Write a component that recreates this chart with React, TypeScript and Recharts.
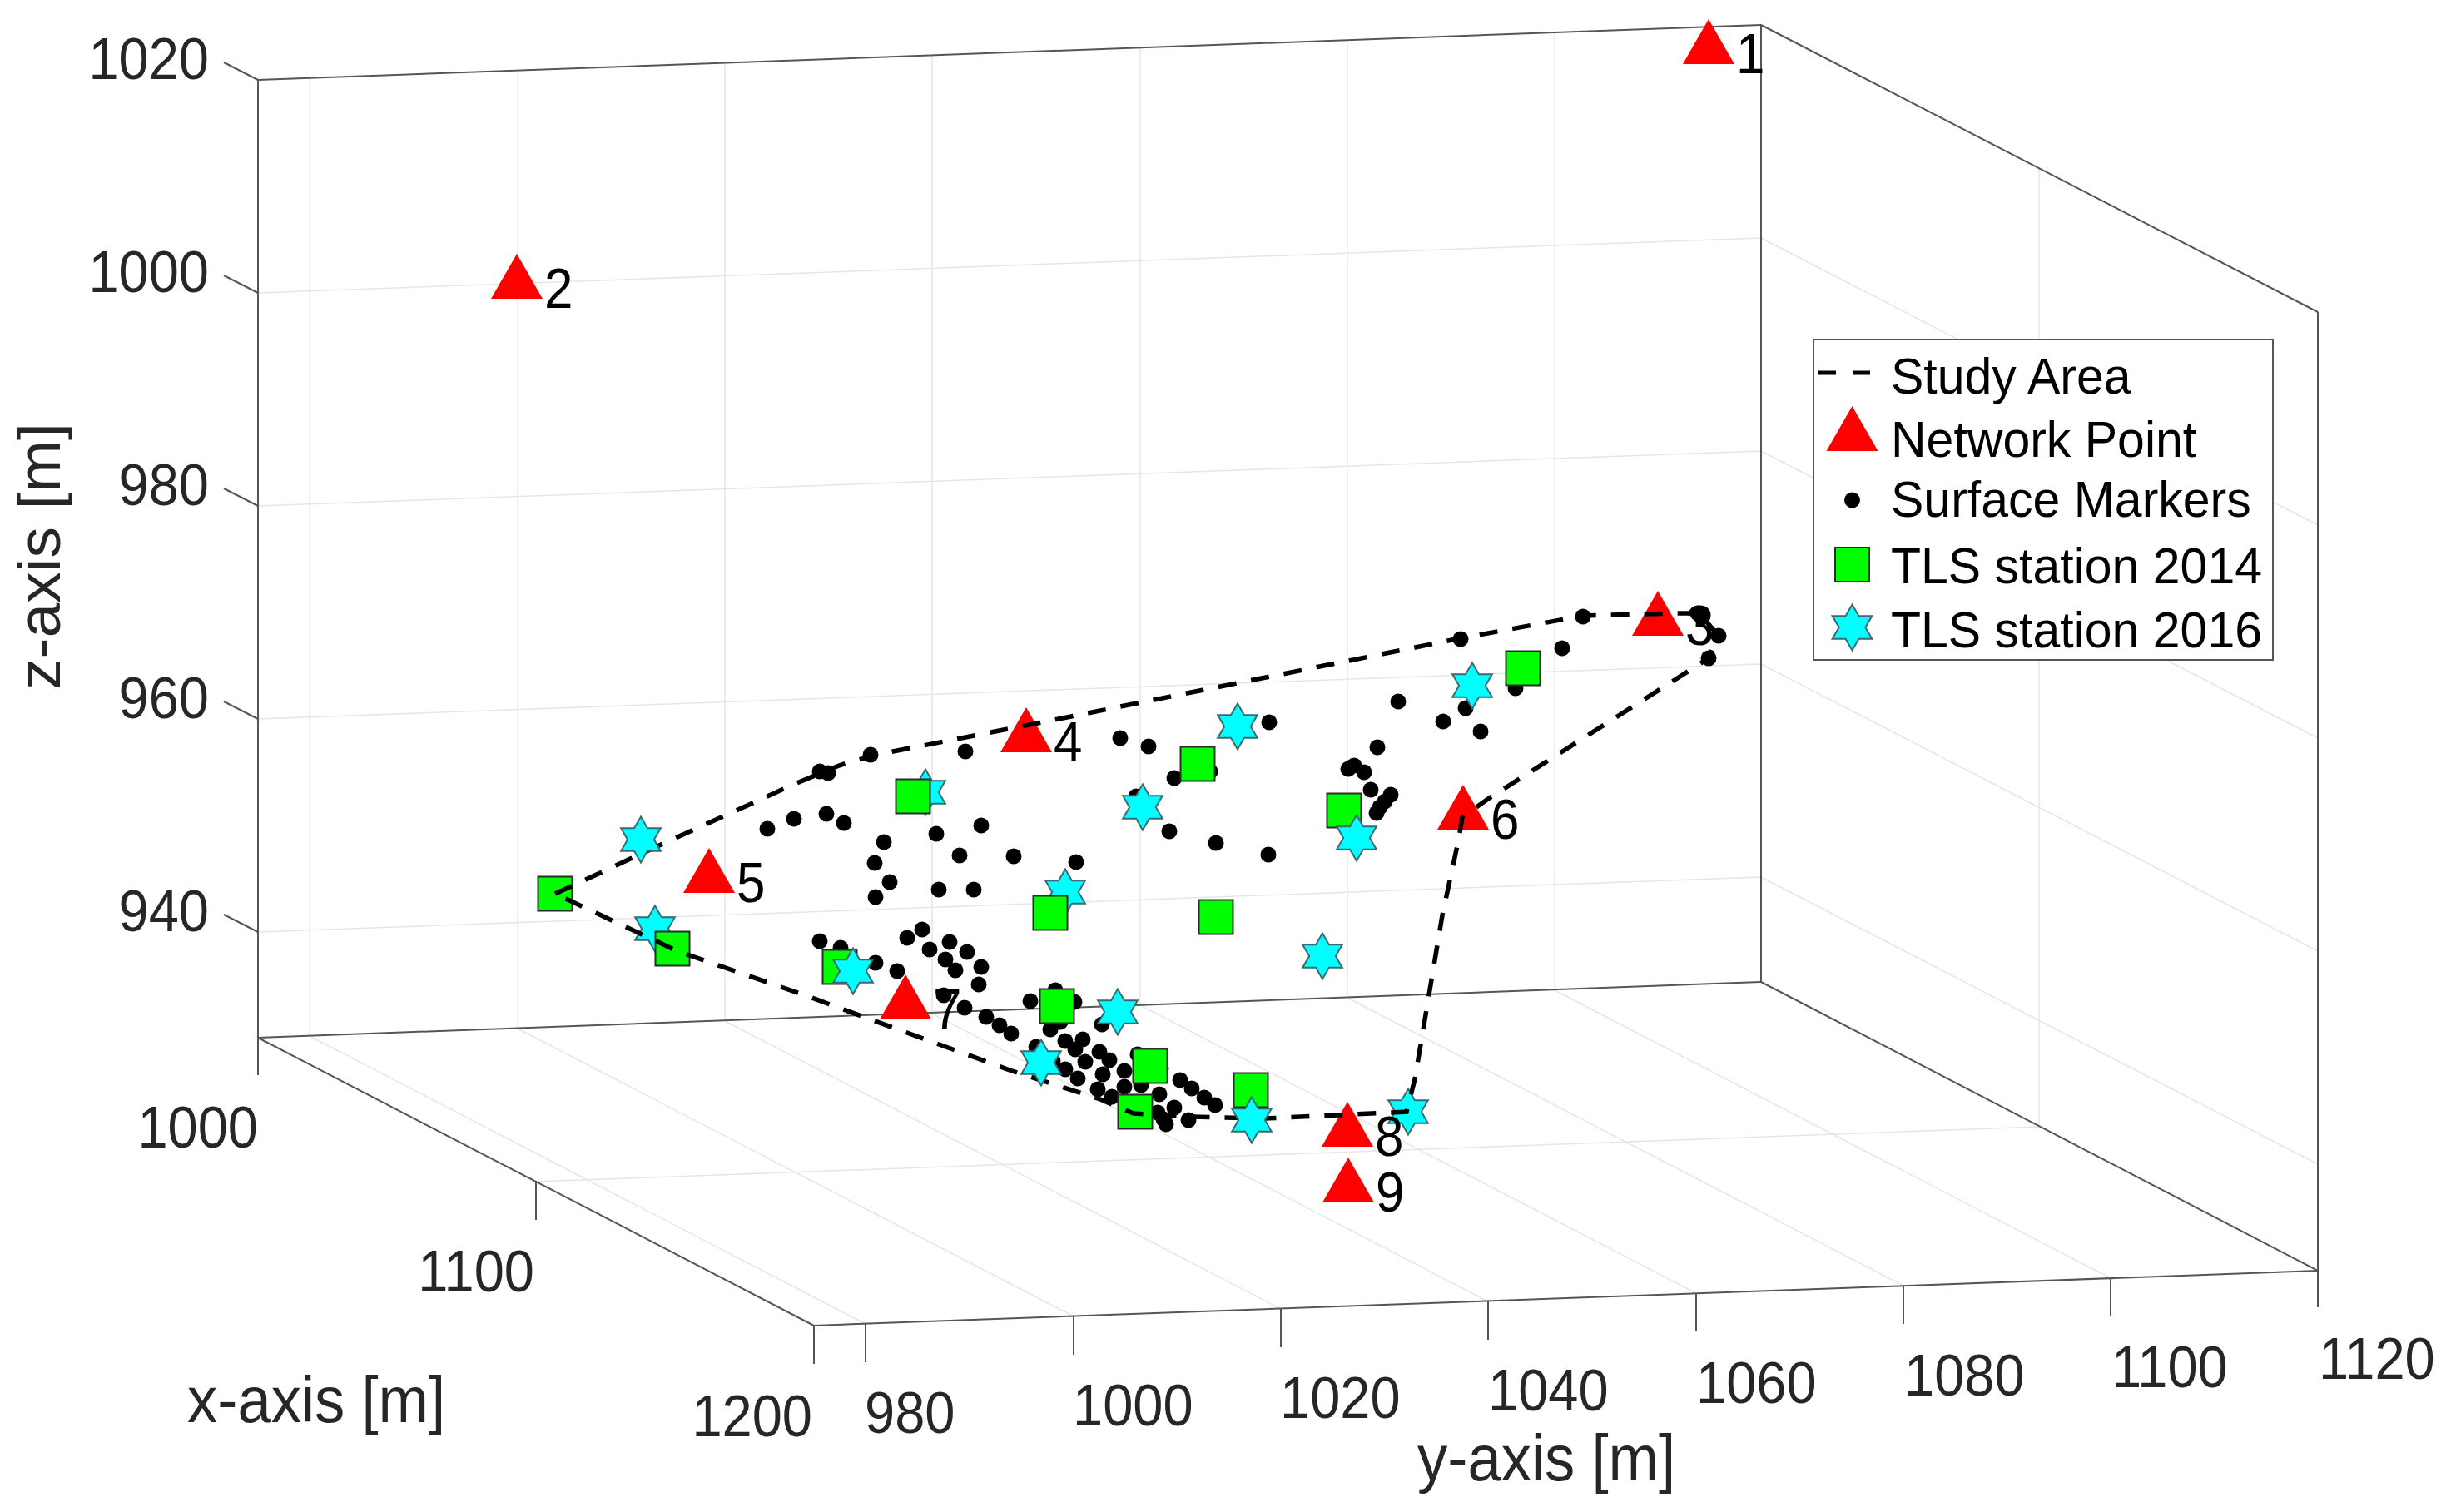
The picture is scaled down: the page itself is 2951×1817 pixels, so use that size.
import {
  Legend,
  ReferenceLine,
  Scatter,
  ScatterChart,
  XAxis,
  YAxis,
} from 'recharts';

// The original is a 3D view. Everything here is read in the flat plane of the
// picture, so the two hidden axes run over the picture's own width and height.
const PLANE_W = 2951;
const PLANE_H = 1817;

type P = { x: number; y: number; label?: string };
const pts = (list: number[][]): P[] => list.map(([x, y]) => ({ x, y }));

const NETWORK_POINTS: P[] = [
  { x: 2053, y: 50, label: '1' },
  { x: 621, y: 332, label: '2' },
  { x: 1992, y: 737, label: '3' },
  { x: 1233, y: 877, label: '4' },
  { x: 852, y: 1046, label: '5' },
  { x: 1758, y: 970, label: '6' },
  { x: 1088, y: 1198, label: '7' },
  { x: 1619, y: 1351, label: '8' },
  { x: 1620, y: 1418, label: '9' },
];

const STATIONS_2014_BACK = pts([
  [667, 1074], [1009, 1162], [1270, 1209], [1461, 1102], [1382, 1281],
  [1364, 1336], [1503, 1310], [1439, 918], [1615, 974], [1830, 803],
]);
const STATIONS_2014_FRONT = pts([[808, 1140], [1097, 957], [1262, 1097]]);

const STATIONS_2016_BACK = pts([[787, 1116], [1112, 952], [1280, 1072], [1692, 1336]]);
const STATIONS_2016_FRONT = pts([
  [770, 1009], [1025, 1167], [1251, 1277], [1343, 1216], [1504, 1346],
  [1589, 1149], [1373, 970], [1487, 873], [1630, 1007], [1769, 824],
]);

const SURFACE_MARKERS = pts([
  [985, 927], [995, 929], [1046, 907], [1160, 903], [922, 996], [954, 984],
  [993, 978], [1014, 989], [1062, 1012], [1125, 1002], [1179, 992], [1153, 1028],
  [1218, 1029], [1293, 1036], [1051, 1037], [1069, 1060], [1052, 1078], [1128, 1069],
  [1170, 1069], [985, 1131], [1010, 1139], [1052, 1157], [1078, 1167], [1108, 1117],
  [1090, 1127], [1117, 1141], [1141, 1132], [1162, 1144], [1136, 1153], [1148, 1166],
  [1179, 1162], [1176, 1183], [1134, 1196], [1159, 1211], [1185, 1222], [1201, 1232],
  [1215, 1242], [1238, 1203], [1268, 1190], [1291, 1204], [1262, 1237], [1274, 1228],
  [1324, 1231], [1245, 1258], [1280, 1251], [1301, 1249], [1292, 1261], [1321, 1264],
  [1333, 1274], [1304, 1276], [1265, 1275], [1280, 1285], [1295, 1296], [1325, 1291],
  [1351, 1287], [1367, 1267], [1395, 1284], [1351, 1306], [1371, 1304], [1319, 1309],
  [1336, 1318], [1393, 1315], [1411, 1331], [1418, 1298], [1432, 1308], [1447, 1319],
  [1460, 1328], [1391, 1337], [1398, 1345], [1401, 1351], [1428, 1346], [1346, 887],
  [1380, 897], [1411, 935], [1454, 927], [1365, 957], [1405, 999], [1461, 1013],
  [1524, 1027], [1525, 868], [1680, 843], [1761, 851], [1734, 867], [1779, 879],
  [1821, 827], [1877, 779], [1755, 768], [1902, 741], [2040, 737], [2045, 742],
  [2065, 764], [2053, 791], [1655, 898], [1620, 924], [1627, 920], [1639, 928],
  [1647, 949], [1671, 955], [1664, 963], [1658, 970], [1654, 977],
]);

const STUDY_AREA = pts([
  [667, 1074], [805, 1010], [955, 942], [1008, 920], [1031, 913], [1073, 903],
  [1247, 869], [1755, 767], [1902, 740], [2013, 737], [2042, 737], [2064, 763],
  [2053, 791], [1788, 960], [1757, 982], [1753, 1007], [1733, 1100], [1700, 1297],
  [1690, 1336], [1521, 1344], [1430, 1342], [1362, 1338], [1322, 1321], [1216, 1287],
  [1046, 1225], [970, 1197], [814, 1143], [667, 1074],
]);

const Z_TICK_Y = [96, 352, 608, 864, 1120];
const Z_TICK_LABELS: P[] = [
  { x: 251, y: 95, label: '1020' },
  { x: 251, y: 351, label: '1000' },
  { x: 251, y: 607, label: '980' },
  { x: 251, y: 863, label: '960' },
  { x: 251, y: 1119, label: '940' },
];
const X_TICK_LABELS: P[] = [
  { x: 310, y: 1379, label: '1000' },
  { x: 642, y: 1552, label: '1100' },
  { x: 976, y: 1726, label: '1200' },
];
const Y_TICK_FRONT = pts([
  [1040, 1591], [1290, 1582], [1539, 1573], [1788, 1564], [2038, 1554], [2287, 1545], [2536, 1536],
]);
const Y_TICK_LABELS: P[] = [
  { x: 1039, y: 1722, label: '980' },
  { x: 1289, y: 1713, label: '1000' },
  { x: 1538, y: 1704, label: '1020' },
  { x: 1788, y: 1695, label: '1040' },
  { x: 2038, y: 1686, label: '1060' },
  { x: 2288, y: 1677, label: '1080' },
  { x: 2537, y: 1667, label: '1100' },
  { x: 2786, y: 1657, label: '1120' },
];

const LEGEND_LABELS = ['Study Area', 'Network Point', 'Surface Markers', 'TLS station 2014', 'TLS station 2016'];

const FONT = '"Liberation Sans", Arial, sans-serif';
const GRID = '#e6e6e6';
const AXIS = '#555555';

type Seg = [[number, number], [number, number]];

// corners of the box in the picture
const BACK_OFFSET = { x: -668, y: -346 };
const WALL_HEIGHT = 1151;
const BOX: Seg[] = [
  [[310, 96], [2116, 30]],
  [[310, 96], [310, 1292]],
  [[2116, 30], [2116, 1180]],
  [[2116, 30], [2785, 375]],
  [[2785, 375], [2785, 1571]],
  [[310, 1247], [2116, 1180]],
  [[2116, 1180], [2785, 1527]],
  [[2785, 1527], [978, 1593]],
  [[978, 1593], [310, 1247]],
  [[644, 1420], [644, 1466]],
  [[978, 1593], [978, 1639]],
];

const axisSegs: Seg[] = [
  ...BOX,
  ...Z_TICK_Y.map((y): Seg => [[269, y - 21], [310, y]]),
  ...Y_TICK_FRONT.map((p): Seg => [[p.x, p.y], [p.x, p.y + 46]]),
];

const gridSegs: Seg[] = [
  ...Z_TICK_Y.slice(1).flatMap((y): Seg[] => [
    [[310, y], [2116, y - 66]],
    [[2116, y - 66], [2785, y + 279]],
  ]),
  ...Y_TICK_FRONT.flatMap((p): Seg[] => {
    const bx = p.x + BACK_OFFSET.x;
    const by = p.y + BACK_OFFSET.y;
    return [
      [[p.x, p.y], [bx, by]],
      [[bx, by], [bx, by - WALL_HEIGHT]],
    ];
  }),
  [[644, 1420], [2450, 1354]],
  [[2450, 203], [2450, 1354]],
];

const trianglePoints = (cx: number, cy: number) =>
  `${cx},${cy - 27} ${cx + 31},${cy + 27} ${cx - 31},${cy + 27}`;

const starPoints = (cx: number, cy: number) => {
  const R = 27.5;
  const r = R / Math.sqrt(3);
  const out: string[] = [];
  for (let i = 0; i < 12; i++) {
    const a = ((-90 + i * 30) * Math.PI) / 180;
    const d = i % 2 === 0 ? R : r;
    out.push(`${cx + d * Math.cos(a)},${cy + d * Math.sin(a)}`);
  }
  return out.join(' ');
};

const Triangle = ({ cx, cy }: any) => <polygon points={trianglePoints(cx, cy)} fill="#ff0000" />;
const Square = ({ cx, cy }: any) => (
  <rect x={cx - 20.5} y={cy - 20.5} width={41} height={41} fill="#00ff00" stroke="#2b2b2b" strokeWidth={2} />
);
const Star = ({ cx, cy }: any) => (
  <polygon points={starPoints(cx, cy)} fill="#00ffff" stroke="#3a6a70" strokeWidth={2} />
);
const Dot = ({ cx, cy }: any) => <circle cx={cx} cy={cy} r={9.5} fill="#000000" />;
const Nothing = () => <g />;

// the reference picture was stretched a little in height, its glyphs too
const tickText = (anchor: 'start' | 'end') => ({ cx, cy, payload }: any) => (
  <text
    transform={`translate(${cx} ${cy}) scale(1 1.07)`}
    textAnchor={anchor}
    fontFamily={FONT}
    fontSize={65}
    fill="#262626"
  >
    {payload.label}
  </text>
);

const NetworkLabel = ({ cx, cy, payload }: any) => (
  <text
    transform={`translate(${cx + 33} ${cy + 38}) scale(1 1.12)`}
    fontFamily={FONT}
    fontSize={62}
    fill="#000000"
  >
    {payload.label}
  </text>
);

const AxisTitle = ({ cx, cy, payload }: any) => {
  const upright = payload.label.startsWith('z');
  return (
    <text
      transform={
        upright
          ? `translate(${cx} ${cy}) rotate(-90) scale(1.035 1)`
          : `translate(${cx} ${cy}) scale(1 1.07)`
      }
      fontFamily={FONT}
      fontSize={72.5}
      fill="#262626"
    >
      {payload.label}
    </text>
  );
};

const AXIS_TITLES: P[] = [
  { x: 225, y: 1709, label: 'x-axis [m]' },
  { x: 1703, y: 1779, label: 'y-axis [m]' },
  { x: 72, y: 829, label: 'z-axis [m]' },
];

const LEGEND_BASELINES = [66, 142, 214, 294, 371];

function LegendBox() {
  return (
    <svg width={554} height={387} style={{ display: 'block' }}>
      <rect x={1} y={1} width={552} height={385} fill="#ffffff" stroke="#555555" strokeWidth={2} />
      <line x1={7} x2={70} y1={41} y2={41} stroke="#000000" strokeWidth={5} strokeDasharray="21 20" />
      <polygon points={trianglePoints(47.5, 108)} fill="#ff0000" />
      <circle cx={47.5} cy={194} r={9.5} fill="#000000" />
      <rect x={27} y={251} width={41} height={41} fill="#00ff00" stroke="#2b2b2b" strokeWidth={2} />
      <polygon points={starPoints(47.5, 347)} fill="#00ffff" stroke="#3a6a70" strokeWidth={2} />
      {LEGEND_LABELS.map((name, i) => (
        <text
          key={name}
          transform={`translate(94 ${LEGEND_BASELINES[i]}) scale(1 1.05)`}
          fontFamily={FONT}
          fontSize={59}
          fill="#000000"
        >
          {name}
        </text>
      ))}
    </svg>
  );
}

export default function App() {
  return (
    <div style={{ position: 'fixed', left: 0, top: 0, width: PLANE_W, height: PLANE_H, background: '#ffffff' }}>
      <ScatterChart width={PLANE_W} height={PLANE_H} margin={{ top: 0, right: 0, bottom: 0, left: 0 }}>
        <XAxis type="number" dataKey="x" domain={[0, PLANE_W]} hide />
        <YAxis type="number" dataKey="y" domain={[0, PLANE_H]} reversed hide />

        {gridSegs.map((s, i) => (
          <ReferenceLine
            key={`g${i}`}
            segment={[{ x: s[0][0], y: s[0][1] }, { x: s[1][0], y: s[1][1] }]}
            stroke={GRID}
            strokeWidth={1.5}
            ifOverflow="visible"
          />
        ))}
        {axisSegs.map((s, i) => (
          <ReferenceLine
            key={`a${i}`}
            segment={[{ x: s[0][0], y: s[0][1] }, { x: s[1][0], y: s[1][1] }]}
            stroke={AXIS}
            strokeWidth={2}
            ifOverflow="visible"
          />
        ))}

        <Scatter data={SURFACE_MARKERS} shape={Dot} isAnimationActive={false} />
        <Scatter data={STATIONS_2014_BACK} shape={Square} isAnimationActive={false} />
        <Scatter data={STATIONS_2016_BACK} shape={Star} isAnimationActive={false} />
        <Scatter data={STATIONS_2014_FRONT} shape={Square} isAnimationActive={false} />
        <Scatter data={NETWORK_POINTS} shape={Triangle} isAnimationActive={false} />
        <Scatter
          data={STUDY_AREA}
          shape={Nothing}
          line={{ stroke: '#000000', strokeWidth: 5.5, strokeDasharray: '22 18' }}
          lineType="joint"
          isAnimationActive={false}
        />
        <Scatter data={STATIONS_2016_FRONT} shape={Star} isAnimationActive={false} />
        <Scatter data={NETWORK_POINTS} shape={NetworkLabel} isAnimationActive={false} />

        <Scatter data={Z_TICK_LABELS} shape={tickText('end')} isAnimationActive={false} />
        <Scatter data={X_TICK_LABELS} shape={tickText('end')} isAnimationActive={false} />
        <Scatter data={Y_TICK_LABELS} shape={tickText('start')} isAnimationActive={false} />
        <Scatter data={AXIS_TITLES} shape={AxisTitle} isAnimationActive={false} />

        <Legend
          layout="vertical"
          align="center"
          verticalAlign="middle"
          content={() => <LegendBox />}
          wrapperStyle={{ left: 2178, top: 407, width: 554, height: 387, margin: 0 }}
        />
      </ScatterChart>
    </div>
  );
}
